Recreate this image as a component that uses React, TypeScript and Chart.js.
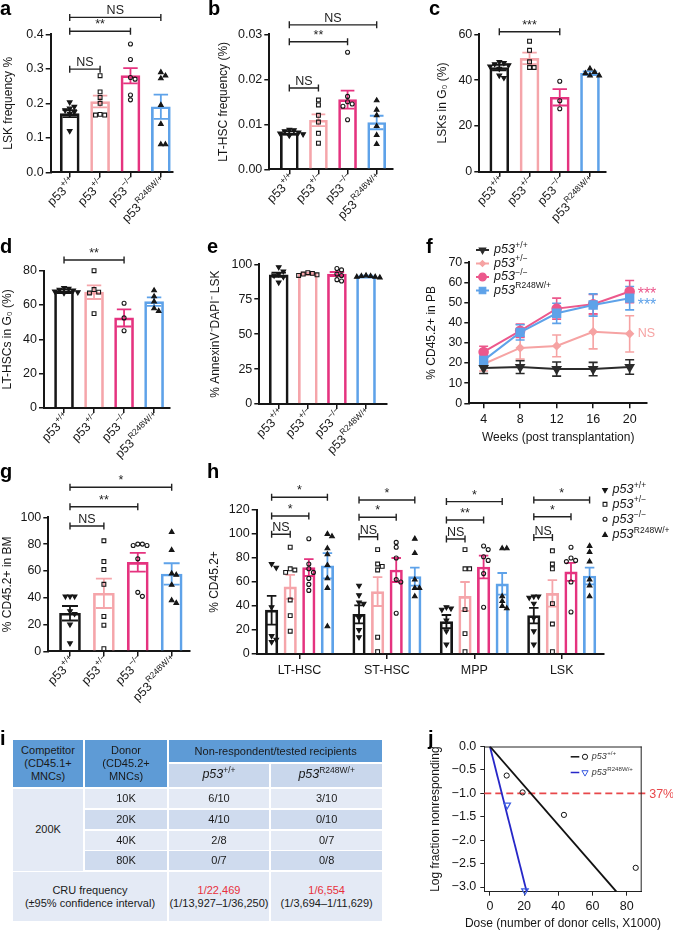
import React, { useEffect, useRef } from 'react';
import { Chart, registerables } from 'chart.js';

Chart.register(...registerables);

const FONT = '"Liberation Sans", Arial, Helvetica, sans-serif';
Chart.defaults.font.family = FONT;

const INK = '#161616';
const GENO_COLORS = ['#161616', '#F5A5AA', '#E5337F', '#5EA2E9'];
const LINE_COLORS = ['#2b2b2b', '#F6A3A3', '#EC588C', '#5EA2E9'];
const GENO_BASE = 'p53';
const GENO_SUP = ['+/+', '+/−', '−/−', 'R248W/+'];
const GENO_POS = [0, 1, 2, 3];

// ---------- a ----------
const A_YTICKS = [0, 0.1, 0.2, 0.3, 0.4];
const A_MEAN = [0.17, 0.205, 0.28, 0.19];
const A_SEM = [0.01, 0.017, 0.022, 0.035];
const A_WT = [0.203, 0.19, 0.185, 0.18, 0.175, 0.17, 0.12];
const A_HET = [0.28, 0.233, 0.217, 0.2, 0.168, 0.166, 0.166];
const A_KO = [0.372, 0.327, 0.275, 0.27, 0.224, 0.21];
const A_MUT = [0.29, 0.28, 0.272, 0.195, 0.14, 0.081, 0.081];
const A_SIG = ['NS', '**', 'NS'];
const A_SIG_TO = [3, 2, 1];
const A_SIG_Y = [0.449, 0.409, 0.299];

// ---------- b ----------
const B_YTICKS = [0, 0.01, 0.02, 0.03];
const B_MEAN = [0.0081, 0.0109, 0.0155, 0.0104];
const B_SEM = [0.0004, 0.0013, 0.002, 0.0015];
const B_WT = [0.0088, 0.0087, 0.0085, 0.0082, 0.008, 0.0078, 0.0075];
const B_HET = [0.0154, 0.0143, 0.012, 0.0105, 0.008, 0.0058];
const B_KO = [0.026, 0.0162, 0.015, 0.0145, 0.014, 0.011];
const B_MUT = [0.0153, 0.0132, 0.012, 0.0096, 0.0076, 0.0056];
const B_SIG = ['NS', '**', 'NS'];
const B_SIG_TO = [3, 2, 1];
const B_SIG_Y = [0.0321, 0.02836, 0.01807];

// ---------- c ----------
const C_YTICKS = [0, 20, 40, 60];
const C_MEAN = [45.5, 49.5, 32.5, 43];
const C_SEM = [1.2, 2.5, 3.6, 0.8];
const C_WT = [48, 47.5, 47, 46.5, 46, 45, 42, 41];
const C_HET = [57, 53, 48, 45.5, 45.5];
const C_KO = [39.5, 31, 27.5];
const C_MUT = [45, 43.5, 43, 42, 42];
const C_SIG = ['***'];
const C_SIG_TO = [2];
const C_SIG_Y = [61.1];

// ---------- d ----------
const D_YTICKS = [0, 20, 40, 60, 80];
const D_MEAN = [68, 67.5, 52.5, 62];
const D_SEM = [1, 4, 5, 2.5];
const D_WT = [70, 69.5, 69, 68.5, 68, 67.5, 67];
const D_HET = [80, 69, 67.5, 67, 55];
const D_KO = [61, 52.5, 45];
const D_MUT = [68.5, 65, 62, 58, 56.5];
const D_SIG = ['**'];
const D_SIG_TO = [2];
const D_SIG_Y = [86.2];

// ---------- e ----------
const E_YTICKS = [0, 25, 50, 75, 100];
const E_MEAN = [92.5, 93.5, 93, 91.5];
const E_SEM = [1.5, 0.5, 1.5, 0.3];
const E_WT = [98, 95, 93, 92, 91, 87];
const E_HET = [94, 93.5, 93, 92.5, 92];
const E_KO = [97, 96, 93, 92, 89, 88];
const E_MUT = [92, 91.5, 91.5, 91, 91, 90.5];

// ---------- f ----------
const F_WEEKS = [4, 8, 12, 16, 20];
const F_YTICKS = [0, 10, 20, 30, 40, 50, 60, 70];
const F_WT = [17.5, 18, 17, 17, 18];
const F_WT_SEM = [2.7, 3.2, 3.5, 3.3, 3.6];
const F_HET = [19.5, 27.5, 28.5, 35.5, 34.5];
const F_HET_SEM = [3.5, 5.5, 5.4, 8.5, 9];
const F_KO = [25.5, 36, 47, 49.2, 55.5];
const F_KO_SEM = [2.8, 3.3, 5.2, 4.8, 5.5];
const F_MUT = [21.3, 35.2, 44.7, 48.8, 52.2];
const F_MUT_SEM = [2.5, 3.8, 5, 5.5, 5.8];
const F_SIG = ['***', '***', 'NS'];
const F_SIG_GENO = [2, 3, 1];

// ---------- g ----------
const G_YTICKS = [0, 20, 40, 60, 80, 100];
const G_MEAN = [28.4, 43.3, 66.4, 57.7];
const G_SEM = [5.4, 11, 7, 8];
const G_WT = [41, 41, 41, 30, 28, 20, 6];
const G_HET = [82.5, 67, 61, 50, 26, 19.5, 2];
const G_KO = [80, 80, 79, 79, 69, 44, 41];
const G_MUT = [89, 75.5, 58, 57, 49.5, 38, 36];
const G_SIG = ['*', '**', 'NS'];
const G_SIG_TO = [3, 2, 1];
const G_SIG_Y = [122.4, 107.9, 93.5];

// ---------- h ----------
const H_GROUPS = ['LT-HSC', 'ST-HSC', 'MPP', 'LSK'];
const H_YTICKS = [0, 20, 40, 60, 80, 100, 120];
const H_MEAN_WT = [36.5, 33, 27, 32];
const H_MEAN_HET = [56, 52, 48, 50.5];
const H_MEAN_KO = [72, 70, 72.5, 68.5];
const H_MEAN_MUT = [73.5, 64.5, 58.5, 65];
const H_SEM_WT = [12, 7.5, 5.5, 6.5];
const H_SEM_HET = [10, 12, 12, 11];
const H_SEM_KO = [7, 10, 9.5, 7.5];
const H_SEM_MUT = [10.5, 7.5, 9, 7];
const H_WT = [[75, 72, 39, 15, 12, 10], [57, 49, 43, 42, 30, 20, 14], [39, 38, 37, 28, 19, 8], [48, 48, 47, 42, 30, 19, 8]];
const H_HET = [[89, 71, 70, 68, 45, 32, 19], [87, 75, 73, 70, 14, 2], [87, 71, 71, 37, 17, 2], [86, 75, 71, 42, 25, 2]];
const H_KO = [[96, 75, 71, 68, 63, 58, 53], [93, 89, 80, 62, 60, 34], [90, 87, 81, 78, 67, 39], [89, 80, 78, 77, 60, 35]];
const H_MUT = [[100, 98, 88, 83, 74, 63, 55, 23], [96, 84, 62, 55, 55, 48], [88, 88, 48, 44, 40, 38], [90, 85, 77, 62, 57, 48]];
const H_SIG = [['*', '*', 'NS'], ['*', '*', 'NS'], ['*', '**', 'NS'], ['*', '*', 'NS']];
const H_SIG_Y = [[130.6, 115, 99.75], [128.3, 114, 97.75], [127, 111.7, 95.8], [128.3, 114.4, 97]];
const H_SIG_TO = [3, 2, 1];

// ---------- i (table) ----------
const T_DOSES = ['10K', '20K', '40K', '80K'];
const T_WT = ['6/10', '4/10', '2/8', '0/7'];
const T_MUT = ['3/10', '0/10', '0/7', '0/8'];
const T_CRU = ['1/22,469', '1/6,554'];
const T_CI = ['(1/13,927–1/36,250)', '(1/3,694–1/11,629)'];

// ---------- j ----------
const J_XTICKS = [0, 20, 40, 60, 80];
const J_YTICKS = [0, -0.5, -1, -1.5, -2, -2.5, -3];
const J_WT_DOSE = [9.8, 19.1, 43.3, 85.3];
const J_WT_LOG = [-0.62, -0.98, -1.46, -2.59];
const J_MUT_DOSE = [10.1, 20.5];
const J_MUT_LOG = [-1.25, -3.08];
const J_WT_FIT_X = [0, 74];
const J_WT_FIT_Y = [0, -3.1];
const J_MUT_FIT_X = [0, 21.5];
const J_MUT_FIT_Y = [0, -3.1];
const J_37_Y = -1.0;
const J_37_X = [-3.3, 93];

// ================= helpers =================
const GEN_STYLE = [
  { style: 'triangle', rot: 180, r: 2.7, fill: true },
  { style: 'rect', rot: 0, r: 2.7, fill: false },
  { style: 'circle', rot: 0, r: 2.0, fill: false },
  { style: 'triangle', rot: 0, r: 2.7, fill: true },
];

function frame(box: number[], area: number[]) {
  return {
    padding: { top: area[1] - box[1], right: box[0] + box[2] - area[2], left: 0, bottom: 0 },
    yW: area[0] - box[0],
    xH: box[1] + box[3] - area[3],
  };
}

function swarm(vals: number[], center: number, pxX: number, pxY: number, r: number) {
  const placed: number[][] = [];
  return vals.map((v) => {
    const yp = v * pxY;
    let xo = 0;
    for (let k = 0; k < 15; k++) {
      const cand = k === 0 ? 0 : (k % 2 ? 1 : -1) * Math.ceil(k / 2) * r * 2;
      if (placed.every(([px, py]) => Math.hypot(px - cand, py - yp) >= r * 2)) { xo = cand; break; }
    }
    placed.push([xo, yp]);
    return { x: center + xo / pxX, y: v };
  });
}

function drawMarker(ctx: CanvasRenderingContext2D, style: string, rot: number, x: number, y: number, r: number, color: string, fill: boolean, lw = 1.1) {
  ctx.save();
  ctx.beginPath();
  if (style === 'circle') {
    ctx.arc(x, y, r, 0, Math.PI * 2);
  } else if (style === 'rect') {
    const s = r * Math.SQRT1_2;
    ctx.rect(x - s, y - s, 2 * s, 2 * s);
  } else if (style === 'rectRot') {
    ctx.moveTo(x, y - r); ctx.lineTo(x + r, y); ctx.lineTo(x, y + r); ctx.lineTo(x - r, y); ctx.closePath();
  } else {
    let a = (rot * Math.PI) / 180;
    ctx.moveTo(x + Math.sin(a) * r, y - Math.cos(a) * r);
    a += (2 * Math.PI) / 3;
    ctx.lineTo(x + Math.sin(a) * r, y - Math.cos(a) * r);
    a += (2 * Math.PI) / 3;
    ctx.lineTo(x + Math.sin(a) * r, y - Math.cos(a) * r);
    ctx.closePath();
  }
  if (fill) { ctx.fillStyle = color; ctx.fill(); }
  ctx.strokeStyle = color; ctx.lineWidth = lw; ctx.stroke();
  ctx.restore();
}

function drawSup(ctx: CanvasRenderingContext2D, x: number, y: number, base: string, sup: string, size: number, italic: boolean, color: string, align: 'left' | 'right') {
  const f1 = `${italic ? 'italic ' : ''}${size}px ${FONT}`;
  const f2 = `${(size * 0.68).toFixed(1)}px ${FONT}`;
  ctx.font = f1; const w1 = ctx.measureText(base).width;
  ctx.font = f2; const w2 = ctx.measureText(sup).width;
  const x0 = align === 'right' ? x - w1 - w2 - 0.5 : x;
  ctx.fillStyle = color; ctx.textAlign = 'left'; ctx.textBaseline = 'middle';
  ctx.font = f1; ctx.fillText(base, x0, y);
  ctx.font = f2; ctx.fillText(sup, x0 + w1 + 0.5, y - size * 0.38);
}

const TICK_FONT = { family: FONT, size: 12.5 };
const TITLE_FONT = { family: FONT, size: 12, lineHeight: 1.2 };

function axisCommon() {
  return {
    grid: { display: true, drawOnChartArea: false, drawTicks: true, tickLength: 5, color: INK, lineWidth: 1.5, offset: false },
    border: { display: true, color: INK, width: 2 },
  };
}

// ================= bar panel builder =================
type Bracket = { x1: number; x2: number; y: number; label: string };
type BarPanel = {
  box: number[]; area: number[];
  xMin: number; xMax: number; yMin: number; yMax: number; yTicks: number[]; yDec: number;
  barPos: number[]; means: number[]; sems: number[]; colors: string[]; barW: number;
  pts: number[][]; ptGeno: number[];
  brackets: Bracket[];
  tickPos: number[]; catLabels?: string[]; rotLabels?: boolean;
  yTitle: string; yTitleX: number; hLegend?: boolean;
};

function buildBar(p: BarPanel) {
  const fr = frame(p.box, p.area);
  const pxX = (p.area[2] - p.area[0]) / (p.xMax - p.xMin);
  const pxY = (p.area[3] - p.area[1]) / (p.yMax - p.yMin);
  const scatter = p.pts.map((vals, i) => {
    const g = GEN_STYLE[p.ptGeno[i]];
    return {
      type: 'scatter',
      data: swarm(vals, p.barPos[i], pxX, pxY, 2.3),
      pointStyle: g.style, pointRotation: g.rot, pointRadius: g.r, pointHoverRadius: g.r,
      pointBackgroundColor: g.fill ? INK : 'rgba(255,255,255,0)',
      pointBorderColor: INK, pointBorderWidth: 1.1, clip: false, order: 0,
    };
  });
  const bars = {
    type: 'bar',
    data: p.barPos.map((x, i) => ({ x, y: p.means[i] })),
    backgroundColor: 'rgba(255,255,255,0)',
    borderColor: p.colors, borderWidth: 2, barThickness: p.barW, order: 1,
  };
  const tpad = Math.max(0, p.yTitleX - p.box[0] - 7.2);
  const decor = {
    id: 'decor',
    beforeDatasetsDraw(chart: any) {
      const { ctx, scales: { x, y } } = chart;
      ctx.save();
      p.barPos.forEach((bx, i) => {
        const px = x.getPixelForValue(bx);
        const yt = y.getPixelForValue(p.means[i] + p.sems[i]);
        const yb = y.getPixelForValue(p.means[i] - p.sems[i]);
        const cw = p.barW * 0.38;
        ctx.strokeStyle = p.colors[i]; ctx.lineWidth = 1.8;
        ctx.beginPath();
        ctx.moveTo(px, yt); ctx.lineTo(px, yb);
        ctx.moveTo(px - cw, yt); ctx.lineTo(px + cw, yt);
        ctx.moveTo(px - cw, yb); ctx.lineTo(px + cw, yb);
        ctx.stroke();
      });
      ctx.restore();
    },
    afterDraw(chart: any) {
      const { ctx, scales: { x, y }, chartArea } = chart;
      ctx.save();
      p.brackets.forEach((b) => {
        const x1 = x.getPixelForValue(b.x1), x2 = x.getPixelForValue(b.x2), py = y.getPixelForValue(b.y);
        ctx.strokeStyle = '#222'; ctx.lineWidth = 1.4;
        ctx.beginPath();
        ctx.moveTo(x1, py); ctx.lineTo(x2, py);
        ctx.moveTo(x1, py - 3.5); ctx.lineTo(x1, py + 3.5);
        ctx.moveTo(x2, py - 3.5); ctx.lineTo(x2, py + 3.5);
        ctx.stroke();
        ctx.fillStyle = '#222'; ctx.textAlign = 'center'; ctx.textBaseline = 'alphabetic';
        ctx.font = `12.5px ${FONT}`;
        ctx.fillText(b.label, (x1 + x2) / 2, py - 3);
      });
      if (p.rotLabels) {
        p.tickPos.forEach((tv, i) => {
          const px = x.getPixelForValue(tv);
          ctx.save();
          ctx.translate(px + 4, chartArea.bottom + 8);
          ctx.rotate(-Math.PI / 4);
          drawSup(ctx, 0, 0, GENO_BASE, GENO_SUP[i], 12.5, false, INK, 'right');
          ctx.restore();
        });
      }
      if (p.hLegend) {
        const lx = chartArea.right + 1.7;
        const ly = [chartArea.top - 20, chartArea.top - 5.7, chartArea.top + 9.3, chartArea.top + 25];
        GENO_SUP.forEach((s, k) => {
          const g = GEN_STYLE[k];
          drawMarker(ctx, g.style, g.rot, lx, ly[k], g.r, INK, g.fill);
          drawSup(ctx, lx + 7.5, ly[k], GENO_BASE, s, 12.5, true, INK, 'left');
        });
      }
      ctx.restore();
    },
  };
  return {
    type: 'bar',
    data: { datasets: [...scatter, bars] },
    options: {
      animation: false, responsive: false, events: [],
      layout: { padding: fr.padding },
      plugins: { legend: { display: false }, tooltip: { enabled: false } },
      scales: {
        x: {
          type: 'linear', min: p.xMin, max: p.xMax, offset: false,
          afterBuildTicks: (s: any) => { s.ticks = p.tickPos.map((v) => ({ value: v })); },
          afterFit: (s: any) => { s.height = fr.xH; },
          ticks: {
            display: !!p.catLabels, autoSkip: false, maxRotation: 0, padding: 4,
            font: { family: FONT, size: 12.5 }, color: INK,
            callback: (_v: any, i: number) => (p.catLabels ? p.catLabels[i] : ''),
          },
          ...axisCommon(),
        },
        y: {
          type: 'linear', min: p.yMin, max: p.yMax,
          afterBuildTicks: (s: any) => { s.ticks = p.yTicks.map((v) => ({ value: v })); },
          afterFit: (s: any) => { s.width = fr.yW; },
          ticks: { font: TICK_FONT, color: INK, padding: 2, callback: (v: number) => v.toFixed(p.yDec) },
          title: { display: true, text: p.yTitle, font: TITLE_FONT, color: INK, padding: { top: tpad, bottom: 0 } },
          ...axisCommon(),
        },
      },
    },
    plugins: [decor],
  };
}

function simplePanel(box: number[], area: number[], xMin: number, xMax: number, ticks: number[], dec: number, barW: number,
  means: number[], sems: number[], pts: number[][], sig: string[], sigTo: number[], sigY: number[], yTitle: string, yTitleX: number): BarPanel {
  return {
    box, area, xMin, xMax, yMin: ticks[0], yMax: ticks[ticks.length - 1], yTicks: ticks, yDec: dec,
    barPos: GENO_POS, means, sems, colors: GENO_COLORS, barW, pts, ptGeno: GENO_POS,
    brackets: sig.map((l, i) => ({ x1: 0, x2: sigTo[i], y: sigY[i], label: l })),
    tickPos: GENO_POS, rotLabels: true, yTitle, yTitleX,
  };
}

const PANEL_A = simplePanel([0, 0, 215, 235], [50.7, 34.3, 173, 172.3], -0.626, 3.4, A_YTICKS, 1, 19,
  A_MEAN, A_SEM, [A_WT, A_HET, A_KO, A_MUT], A_SIG, A_SIG_TO, A_SIG_Y, 'LSK frequency %', 9);
const PANEL_B = simplePanel([216, 0, 210, 235], [269.3, 34.3, 393, 169.3], -0.687, 3.56, B_YTICKS, 2, 18,
  B_MEAN, B_SEM, [B_WT, B_HET, B_KO, B_MUT], B_SIG, B_SIG_TO, B_SIG_Y, 'LT-HSC frequency (%)', 224);
const PANEL_C = simplePanel([432, 0, 241, 235], [479.3, 34.3, 605.7, 171.7], -0.662, 3.52, C_YTICKS, 0, 19,
  C_MEAN, C_SEM, [C_WT, C_HET, C_KO, C_MUT], C_SIG, C_SIG_TO, C_SIG_Y, 'LSKs in G₀ (%)', 443);
const PANEL_D = simplePanel([0, 236, 212, 232], [44, 270.7, 170, 408], -0.667, 3.53, D_YTICKS, 0, 19,
  D_MEAN, D_SEM, [D_WT, D_HET, D_KO, D_MUT], D_SIG, D_SIG_TO, D_SIG_Y, 'LT-HSCs in G₀ (%)', 8);
const PANEL_E = simplePanel([206, 236, 212, 232], [259.3, 264.3, 386.7, 404], -0.667, 3.71, E_YTICKS, 0, 19,
  E_MEAN, E_SEM, [E_WT, E_HET, E_KO, E_MUT], [], [], [], '% AnnexinV⁻DAPI⁻ LSK', 216);
const PANEL_G = simplePanel([0, 462, 200, 268], [48.3, 517.3, 189.3, 651.3], -0.64, 3.52, G_YTICKS, 0, 21,
  G_MEAN, G_SEM, [G_WT, G_HET, G_KO, G_MUT], G_SIG, G_SIG_TO, G_SIG_Y, '% CD45.2+ in BM', 7);

const H_SPREAD = 0.2128;
const hPos = (g: number, k: number) => g + (k - 1.5) * H_SPREAD;
const H_MEANS = [H_MEAN_WT, H_MEAN_HET, H_MEAN_KO, H_MEAN_MUT];
const H_SEMS = [H_SEM_WT, H_SEM_HET, H_SEM_KO, H_SEM_MUT];
const H_PTS = [H_WT, H_HET, H_KO, H_MUT];
const PANEL_H: BarPanel = {
  box: [198, 462, 475, 232], area: [256.7, 510, 603.3, 654],
  xMin: -0.49, xMax: 3.476, yMin: 0, yMax: 120, yTicks: H_YTICKS, yDec: 0,
  barPos: [], means: [], sems: [], colors: [], barW: 12.5, pts: [], ptGeno: [],
  brackets: [], tickPos: GENO_POS, catLabels: H_GROUPS, yTitle: '% CD45.2+', yTitleX: 215, hLegend: true,
};
H_GROUPS.forEach((_, g) => {
  GENO_POS.forEach((k) => {
    PANEL_H.barPos.push(hPos(g, k));
    PANEL_H.means.push(H_MEANS[k][g]);
    PANEL_H.sems.push(H_SEMS[k][g]);
    PANEL_H.colors.push(GENO_COLORS[k]);
    PANEL_H.pts.push(H_PTS[k][g]);
    PANEL_H.ptGeno.push(k);
  });
  H_SIG[g].forEach((l, j) => {
    PANEL_H.brackets.push({ x1: hPos(g, 0), x2: hPos(g, H_SIG_TO[j]), y: H_SIG_Y[g][j], label: l });
  });
});

// ================= f =================
function buildF() {
  const box = [420, 235, 253, 215];
  const area = [469.3, 262.3, 647, 403.3];
  const fr = frame(box, area);
  const series = [F_WT, F_HET, F_KO, F_MUT];
  const sems = [F_WT_SEM, F_HET_SEM, F_KO_SEM, F_MUT_SEM];
  const mk = [
    { style: 'triangle', rot: 180, r: 4.2 },
    { style: 'rectRot', rot: 0, r: 3.3 },
    { style: 'circle', rot: 0, r: 4.3 },
    { style: 'rect', rot: 0, r: 5.2 },
  ];
  const datasets = series.map((s, k) => ({
    type: 'line',
    data: F_WEEKS.map((w, i) => ({ x: w, y: s[i] })),
    borderColor: LINE_COLORS[k], backgroundColor: LINE_COLORS[k], borderWidth: 2,
    pointStyle: mk[k].style, pointRotation: mk[k].rot, pointRadius: mk[k].r, pointHoverRadius: mk[k].r,
    pointBackgroundColor: LINE_COLORS[k], pointBorderColor: LINE_COLORS[k], tension: 0, clip: false,
    order: k === 0 ? 0 : 4 - k,
  }));
  const decor = {
    id: 'fdecor',
    beforeDatasetsDraw(chart: any) {
      const { ctx, scales: { x, y } } = chart;
      ctx.save();
      series.forEach((s, k) => {
        ctx.strokeStyle = LINE_COLORS[k]; ctx.lineWidth = 1.6;
        F_WEEKS.forEach((w, i) => {
          const px = x.getPixelForValue(w);
          const yt = y.getPixelForValue(s[i] + sems[k][i]);
          const yb = y.getPixelForValue(s[i] - sems[k][i]);
          ctx.beginPath();
          ctx.moveTo(px, yt); ctx.lineTo(px, yb);
          ctx.moveTo(px - 4.5, yt); ctx.lineTo(px + 4.5, yt);
          ctx.moveTo(px - 4.5, yb); ctx.lineTo(px + 4.5, yb);
          ctx.stroke();
        });
      });
      ctx.restore();
    },
    afterDraw(chart: any) {
      const { ctx, scales: { x, y }, chartArea } = chart;
      ctx.save();
      const ly = [-12.3, 1.2, 14.7, 28.2];
      GENO_SUP.forEach((sup, k) => {
        const yy = chartArea.top + ly[k];
        ctx.strokeStyle = LINE_COLORS[k]; ctx.lineWidth = 2;
        ctx.beginPath(); ctx.moveTo(chartArea.left + 6.7, yy); ctx.lineTo(chartArea.left + 19.7, yy); ctx.stroke();
        drawMarker(ctx, mk[k].style, mk[k].rot, chartArea.left + 13.2, yy, mk[k].r * 0.9, LINE_COLORS[k], true);
        drawSup(ctx, chartArea.left + 24.7, yy, GENO_BASE, sup, 12.5, true, INK, 'left');
      });
      const dy = [3, 7, 0];
      F_SIG.forEach((lab, j) => {
        const k = F_SIG_GENO[j];
        const s = series[k];
        const px = x.getPixelForValue(F_WEEKS[F_WEEKS.length - 1]) + 8;
        const py = y.getPixelForValue(s[s.length - 1]) + dy[j];
        ctx.fillStyle = LINE_COLORS[k]; ctx.textAlign = 'left'; ctx.textBaseline = 'middle';
        ctx.font = lab === 'NS' ? `12.5px ${FONT}` : `16px ${FONT}`;
        ctx.fillText(lab, px, py);
      });
      ctx.restore();
    },
  };
  return {
    box,
    config: {
      type: 'line',
      data: { datasets },
      options: {
        animation: false, responsive: false, events: [],
        layout: { padding: fr.padding },
        plugins: { legend: { display: false }, tooltip: { enabled: false } },
        scales: {
          x: {
            type: 'linear', min: 2.43, max: 21.9,
            afterBuildTicks: (s: any) => { s.ticks = F_WEEKS.map((v) => ({ value: v })); },
            afterFit: (s: any) => { s.height = fr.xH; },
            ticks: { font: TICK_FONT, color: INK, padding: 3.5, maxRotation: 0 },
            title: { display: true, text: 'Weeks (post transplantation)', font: TITLE_FONT, color: INK, padding: { top: 0, bottom: 4.8 } },
            ...axisCommon(),
          },
          y: {
            type: 'linear', min: 0, max: 70,
            afterBuildTicks: (s: any) => { s.ticks = F_YTICKS.map((v) => ({ value: v })); },
            afterFit: (s: any) => { s.width = fr.yW; },
            ticks: { font: TICK_FONT, color: INK, padding: 2 },
            title: { display: true, text: '% CD45.2+ in PB', font: TITLE_FONT, color: INK, padding: { top: 4.8, bottom: 0 } },
            ...axisCommon(),
          },
        },
      },
      plugins: [decor],
    },
  };
}

// ================= j =================
const J_XTITLE = 'Dose (number of donor cells, X1000)';
function buildJ() {
  const box = [425, 735, 248, 195];
  const area = [484.3, 744, 641.7, 891.7];
  const fr = frame(box, area);
  const BLUE = '#2727C8';
  const TRI = '#3A5BE0';
  const RED = '#E8474A';
  const thin = {
    grid: { display: true, drawOnChartArea: false, drawTicks: true, tickLength: 4, color: '#222', lineWidth: 1 },
    border: { display: true, color: '#222', width: 1 },
  };
  const decor = {
    id: 'jdecor',
    afterDraw(chart: any) {
      const { ctx, chartArea: a, scales: { y } } = chart;
      ctx.save();
      ctx.strokeStyle = '#222'; ctx.lineWidth = 1;
      ctx.beginPath();
      ctx.moveTo(a.left, a.top + 0.5); ctx.lineTo(a.right, a.top + 0.5);
      ctx.moveTo(a.right - 0.5, a.top); ctx.lineTo(a.right - 0.5, a.bottom);
      ctx.stroke();
      ctx.fillStyle = RED; ctx.font = `12.5px ${FONT}`; ctx.textAlign = 'left'; ctx.textBaseline = 'middle';
      ctx.fillText('37%', a.right + 7.5, y.getPixelForValue(J_37_Y) + 1);
      // x title (drawn at full width, not squeezed to the plot width)
      ctx.fillStyle = INK; ctx.font = `12px ${FONT}`; ctx.textAlign = 'center'; ctx.textBaseline = 'middle';
      ctx.fillText(J_XTITLE, (a.left + a.right) / 2, a.bottom + 31.5);
      const items = [
        { c: '#111', m: 'circle', rot: 0, r: 2.6, mc: '#111', sup: GENO_SUP[0], dy: 10.3 },
        { c: BLUE, m: 'triangle', rot: 180, r: 3.6, mc: TRI, sup: 'R248W/+', dy: 26 },
      ];
      items.forEach((it) => {
        const yy = a.top + it.dy;
        ctx.strokeStyle = it.c; ctx.lineWidth = 1.5;
        ctx.beginPath(); ctx.moveTo(a.left + 86.4, yy); ctx.lineTo(a.left + 95, yy); ctx.stroke();
        drawMarker(ctx, it.m, it.rot, a.left + 100.7, yy, it.r, it.mc, false, 1);
        drawSup(ctx, a.left + 107.5, yy, GENO_BASE, it.sup, 9, true, '#333', 'left');
      });
      ctx.restore();
    },
  };
  return {
    box,
    config: {
      type: 'scatter',
      data: {
        datasets: [
          { type: 'scatter', data: J_WT_DOSE.map((x, i) => ({ x, y: J_WT_LOG[i] })), pointStyle: 'circle', pointRadius: 2.6,
            pointBorderColor: '#111', pointBackgroundColor: 'rgba(255,255,255,0)', pointBorderWidth: 1, clip: false, order: 0 },
          { type: 'scatter', data: J_MUT_DOSE.map((x, i) => ({ x, y: J_MUT_LOG[i] })), pointStyle: 'triangle', pointRotation: 180,
            pointRadius: 3.8, pointBorderColor: TRI, pointBackgroundColor: 'rgba(255,255,255,0)', pointBorderWidth: 1.2, clip: false, order: 0 },
          { type: 'line', data: J_WT_FIT_X.map((x, i) => ({ x, y: J_WT_FIT_Y[i] })), borderColor: '#111', borderWidth: 1.8, pointRadius: 0, order: 1 },
          { type: 'line', data: J_MUT_FIT_X.map((x, i) => ({ x, y: J_MUT_FIT_Y[i] })), borderColor: BLUE, borderWidth: 1.8, pointRadius: 0, order: 1 },
          { type: 'line', data: J_37_X.map((x) => ({ x, y: J_37_Y })), borderColor: RED, borderWidth: 1.6, borderDash: [7, 4], pointRadius: 0, clip: false, order: 2 },
        ],
      },
      options: {
        animation: false, responsive: false, events: [],
        layout: { padding: fr.padding },
        plugins: { legend: { display: false }, tooltip: { enabled: false } },
        scales: {
          x: {
            type: 'linear', min: -3.3, max: 88.8,
            afterBuildTicks: (s: any) => { s.ticks = J_XTICKS.map((v) => ({ value: v })); },
            afterFit: (s: any) => { s.height = fr.xH; },
            ticks: { font: TICK_FONT, color: INK, padding: 3, maxRotation: 0 },
            ...thin,
          },
          y: {
            type: 'linear', min: -3.1, max: 0,
            afterBuildTicks: (s: any) => { s.ticks = J_YTICKS.map((v) => ({ value: v })); },
            afterFit: (s: any) => { s.width = fr.yW; },
            ticks: { font: TICK_FONT, color: INK, padding: 4, callback: (v: number) => v.toFixed(1).replace('-', '−') },
            title: { display: true, text: 'Log fraction nonresponding', font: TITLE_FONT, color: INK, padding: { top: 3.8, bottom: 0 } },
            ...thin,
          },
        },
      },
      plugins: [decor],
    },
  };
}

// ================= React =================
function ChartBox({ box, make }: { box: number[]; make: () => any }) {
  const ref = useRef<HTMLCanvasElement>(null);
  useEffect(() => {
    const chart = new Chart(ref.current as HTMLCanvasElement, make());
    return () => chart.destroy();
  }, []);
  return (
    <canvas ref={ref} width={box[2]} height={box[3]}
      style={{ position: 'absolute', left: box[0], top: box[1], width: box[2], height: box[3], display: 'block' }} />
  );
}

function Letter({ ch, x, base }: { ch: string; x: number; base: number }) {
  return (
    <div style={{ position: 'absolute', left: x, top: base - 17, fontSize: 20, lineHeight: '20px', fontWeight: 700, fontFamily: FONT, color: '#000' }}>{ch}</div>
  );
}

const T_COLS = [12, 84, 168, 270, 383.3];
const T_ROWS = [739.3, 762.7, 787.7, 808.7, 829.7, 850.3, 871.3, 922.3];
const T_HEAD = '#5E9BD6';
const T_SUB = '#C9D7EC';
const T_DARK = '#CFDBEE';
const T_LIGHT = '#E4EAF5';

function Cell({ c0, c1, r0, r1, bg, children, color }: any) {
  const l = T_COLS[c0], r = T_COLS[c1], t = T_ROWS[r0], b = T_ROWS[r1];
  return (
    <div style={{
      position: 'absolute', left: l + 0.8, top: t + 0.8, width: r - l - 1.6, height: b - t - 1.6, background: bg,
      display: 'flex', flexDirection: 'column', alignItems: 'center', justifyContent: 'center', textAlign: 'center',
      fontFamily: FONT, fontSize: 11, lineHeight: '12.8px', color: color || '#1a1a1a',
    }}>{children}</div>
  );
}

function Geno({ sup }: { sup: string }) {
  return (
    <span style={{ fontSize: 12.5 }}>
      <i>p53</i><sup style={{ fontSize: 8.5, verticalAlign: 0, position: 'relative', top: -5 }}>{sup}</sup>
    </span>
  );
}

function Table() {
  return (
    <div>
      <Cell c0={0} c1={1} r0={0} r1={2} bg={T_HEAD}><div>Competitor</div><div>(CD45.1+</div><div>MNCs)</div></Cell>
      <Cell c0={1} c1={2} r0={0} r1={2} bg={T_HEAD}><div>Donor</div><div>(CD45.2+</div><div>MNCs)</div></Cell>
      <Cell c0={2} c1={4} r0={0} r1={1} bg={T_HEAD}>Non-respondent/tested recipients</Cell>
      <Cell c0={2} c1={3} r0={1} r1={2} bg={T_SUB}><Geno sup={GENO_SUP[0]} /></Cell>
      <Cell c0={3} c1={4} r0={1} r1={2} bg={T_SUB}><Geno sup={GENO_SUP[3]} /></Cell>
      <Cell c0={0} c1={1} r0={2} r1={6} bg={T_LIGHT}>200K</Cell>
      {T_DOSES.map((d, i) => {
        const bg = i % 2 ? T_DARK : T_LIGHT;
        return (
          <React.Fragment key={d}>
            <Cell c0={1} c1={2} r0={2 + i} r1={3 + i} bg={bg}>{d}</Cell>
            <Cell c0={2} c1={3} r0={2 + i} r1={3 + i} bg={bg}>{T_WT[i]}</Cell>
            <Cell c0={3} c1={4} r0={2 + i} r1={3 + i} bg={bg}>{T_MUT[i]}</Cell>
          </React.Fragment>
        );
      })}
      <Cell c0={0} c1={2} r0={6} r1={7} bg={T_LIGHT}><div>CRU frequency</div><div>(±95% confidence interval)</div></Cell>
      <Cell c0={2} c1={3} r0={6} r1={7} bg={T_LIGHT}><div style={{ color: '#E8313C' }}>{T_CRU[0]}</div><div>{T_CI[0]}</div></Cell>
      <Cell c0={3} c1={4} r0={6} r1={7} bg={T_LIGHT}><div style={{ color: '#E8313C' }}>{T_CRU[1]}</div><div>{T_CI[1]}</div></Cell>
    </div>
  );
}

export default function App() {
  const F = buildF();
  const J = buildJ();
  return (
    <div style={{ position: 'absolute', left: 0, top: 0, width: 673, height: 930, background: '#fff', overflow: 'hidden', fontFamily: FONT }}>
      <ChartBox box={PANEL_A.box} make={() => buildBar(PANEL_A)} />
      <ChartBox box={PANEL_B.box} make={() => buildBar(PANEL_B)} />
      <ChartBox box={PANEL_C.box} make={() => buildBar(PANEL_C)} />
      <ChartBox box={PANEL_D.box} make={() => buildBar(PANEL_D)} />
      <ChartBox box={PANEL_E.box} make={() => buildBar(PANEL_E)} />
      <ChartBox box={F.box} make={() => F.config} />
      <ChartBox box={PANEL_G.box} make={() => buildBar(PANEL_G)} />
      <ChartBox box={PANEL_H.box} make={() => buildBar(PANEL_H)} />
      <ChartBox box={J.box} make={() => J.config} />
      <Table />
      <Letter ch="a" x={0} base={15} />
      <Letter ch="b" x={208} base={15} />
      <Letter ch="c" x={429} base={15} />
      <Letter ch="d" x={0} base={253} />
      <Letter ch="e" x={207} base={253} />
      <Letter ch="f" x={426} base={253} />
      <Letter ch="g" x={0} base={478} />
      <Letter ch="h" x={207} base={478} />
      <Letter ch="i" x={0} base={745} />
      <Letter ch="j" x={428} base={745} />
    </div>
  );
}
